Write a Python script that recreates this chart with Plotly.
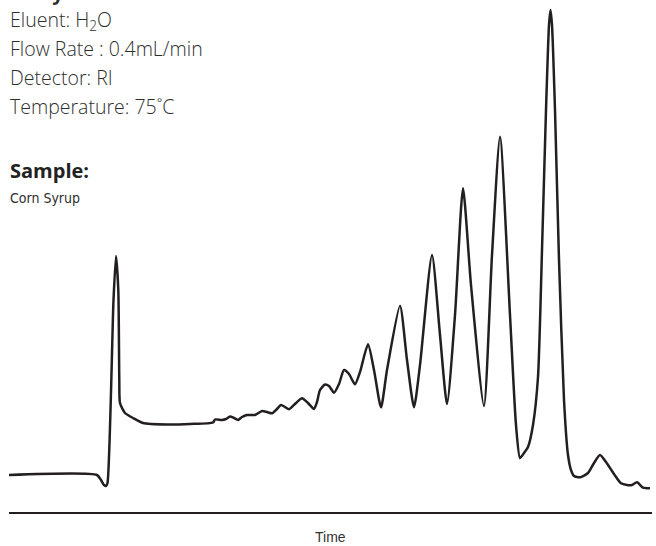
import plotly.graph_objects as go

# Chromatogram trace (time in arbitrary units, signal relative to baseline)
time = [9, 97, 101, 104, 106, 107.5, 113.5, 116, 118.3, 119.3, 120, 125, 133, 143, 167, 190, 213,
        215, 222, 226, 230, 234, 238, 242, 247, 255, 262, 267, 272, 277, 281, 285, 289, 296, 302, 308,
        314, 317, 320, 325, 329, 334, 339, 344, 349, 355, 360, 368, 374, 381, 387, 400, 407, 414,
        420, 432, 440, 447, 455, 463, 471, 484, 492, 500, 510, 516, 520, 524, 528, 533, 538, 542,
        546, 549, 550.5, 552, 555, 559, 564, 568, 571, 574, 580, 588, 594, 600, 606, 614, 621, 627,
        632, 637, 643, 650]
signal = [0, 0, -5, -10, -11, -8, 175, 219, 185, 95, 72, 62, 57, 52, 50.5, 51, 52.5,
          55.5, 55, 56, 58.5, 57, 55, 58, 60, 60, 64, 63, 61.7, 66, 70, 68, 65.7, 72, 76.7, 72,
          66, 73, 85, 90.5, 89, 82.3, 91, 105, 101, 90.7, 103, 130.7, 105, 67.7, 105, 169.3, 115, 67.7,
          110, 220, 140, 71, 160, 286.7, 190, 69, 220, 338.3, 160, 50, 17, 22, 28, 50, 98, 225,
          365, 450, 465, 450, 365, 215, 75, 20, 5, -1, -2.3, 2, 12, 20, 13, 1, -8.3, -10,
          -10, -7.3, -12.7, -13.3]

info_lines = ["Eluent: H<sub>2</sub>O", "Flow Rate : 0.4mL/min", "Detector: RI", "Temperature: 75˚C"]
sample_heading = "Sample:"
sample_name = "Corn Syrup"
heading = "Analysis:"
x_title = "Time"

W, H = 656, 546
L, R, T, B = 9, 4, 0, 34
PW, PH = W - L - R, H - T - B


def px(x):
    return (x - L) / PW


def py(y):
    return (H - B - y) / PH


text_color = "#2e2e2e"
ann = []
ann.append(dict(x=px(5), y=py(-8), xref="paper", yref="paper", text="<b>" + heading + "</b>",
                showarrow=False, xanchor="left", yanchor="middle",
                font=dict(family="Open Sans", size=20, color=text_color)))
rows = [20, 48, 77, 106]
for t, r in zip(info_lines, rows):
    ann.append(dict(x=px(8), y=py(r), xref="paper", yref="paper", text=t, showarrow=False,
                    xanchor="left", yanchor="middle",
                    font=dict(family="Open Sans", size=19.5, color=text_color, weight=300)))
ann.append(dict(x=px(8), y=py(170), xref="paper", yref="paper", text="<b>" + sample_heading + "</b>",
                showarrow=False, xanchor="left", yanchor="middle",
                font=dict(family="Open Sans", size=20, color="#222222")))
ann.append(dict(x=px(8), y=py(198), xref="paper", yref="paper", text=sample_name, showarrow=False,
                xanchor="left", yanchor="middle",
                font=dict(family="DejaVu Sans Condensed, Liberation Sans Narrow, Liberation Sans, sans-serif",
                          size=14, color=text_color)))
ann.append(dict(x=px(330), y=py(537), xref="paper", yref="paper", text=x_title, showarrow=False,
                xanchor="center", yanchor="middle",
                font=dict(family="Liberation Sans", size=14, color="#333333")))

fig = go.Figure()
fig.add_trace(go.Scatter(
    x=time, y=signal, mode="lines",
    line=dict(color="#231f20", width=2.5, shape="spline", smoothing=0.6),
    hoverinfo="skip", showlegend=False,
))

BASE = 475
fig.update_layout(
    width=W, height=H,
    margin=dict(l=L, r=R, t=T, b=B),
    paper_bgcolor="white", plot_bgcolor="white",
    annotations=ann,
    xaxis=dict(range=[9, 652], showgrid=False, zeroline=False, showticklabels=False, ticks="",
               showline=True, linecolor="#231f20", linewidth=2, fixedrange=True),
    yaxis=dict(range=[BASE - 512, BASE], showgrid=False, zeroline=False, showticklabels=False,
               ticks="", showline=False, fixedrange=True),
)

fig.write_html("out.html", config={"displayModeBar": False},
               post_script="document.body.style.margin='0';document.body.style.overflow='hidden';")
